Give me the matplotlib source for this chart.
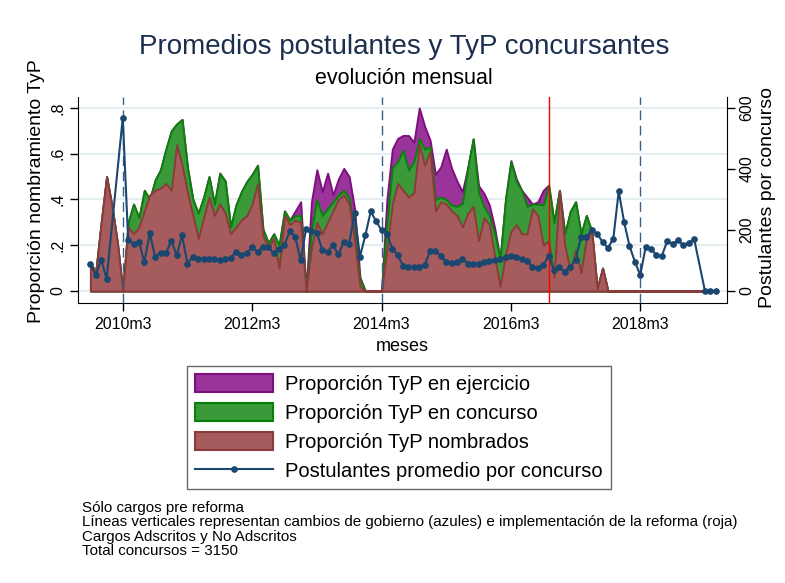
import numpy as np
import pandas as pd
import matplotlib
matplotlib.use("Agg")
import matplotlib.pyplot as plt
from matplotlib.patches import Patch
from matplotlib.lines import Line2D

plt.rcParams['font.family'] = ['Liberation Sans', 'DejaVu Sans']

# meses 2009m9 .. 2019m5
meses = pd.period_range('2009-09', '2019-05', freq='M')

nombrados = [0.12, 0.085, 0.30, 0.50, 0.37, 0.21, 0.00,
             0.28, 0.25, 0.28, 0.35, 0.42, 0.44, 0.45, 0.47, 0.44, 0.64,
             0.55, 0.43, 0.33, 0.23, 0.32, 0.41, 0.33, 0.38, 0.34, 0.25,
             0.28, 0.31, 0.33, 0.38, 0.47, 0.24, 0.19, 0.23, 0.10, 0.33,
             0.29, 0.31, 0.30, 0.00, 0.19, 0.30, 0.25, 0.30, 0.35, 0.40,
             0.42, 0.38, 0.22, 0.02, 0, 0, 0, 0, 0.18, 0.38,
             0.47, 0.44, 0.41, 0.43, 0.64, 0.55, 0.61, 0.35, 0.39, 0.38,
             0.35, 0.33, 0.28, 0.34, 0.37, 0.22, 0.32, 0.29, 0.15, 0.02,
             0.16, 0.26, 0.29, 0.25, 0.25, 0.36, 0.33, 0.20, 0.22, 0.06,
             0.44, 0.20, 0.09, 0.18, 0.08, 0.23, 0.26, 0.01, 0.10] + [0] * 21

concurso = [0.12, 0.085, 0.30, 0.50, 0.37, 0.21, 0.00,
            0.30, 0.38, 0.32, 0.44, 0.40, 0.485, 0.53, 0.62, 0.70, 0.73,
            0.75, 0.54, 0.40, 0.34, 0.41, 0.50, 0.38, 0.515, 0.48, 0.28,
            0.376, 0.434, 0.478, 0.51, 0.55, 0.27, 0.21, 0.25, 0.20, 0.35,
            0.31, 0.33, 0.33, 0.00, 0.27, 0.40, 0.33, 0.36, 0.39, 0.42,
            0.44, 0.405, 0.245, 0.05, 0, 0, 0, 0, 0.30, 0.54,
            0.565, 0.616, 0.53, 0.565, 0.667, 0.62, 0.63, 0.40, 0.41, 0.40,
            0.376, 0.37, 0.383, 0.54, 0.665, 0.43, 0.37, 0.33, 0.25, 0.14,
            0.40, 0.565, 0.48, 0.44, 0.37, 0.38, 0.38, 0.376, 0.463, 0.30,
            0.44, 0.25, 0.347, 0.39, 0.25, 0.33, 0.26, 0.01, 0.10] + [0] * 21

ejercicio = [0.12, 0.085, 0.30, 0.50, 0.37, 0.21, 0.00,
             0.30, 0.38, 0.32, 0.44, 0.40, 0.485, 0.53, 0.62, 0.70, 0.73,
             0.75, 0.54, 0.40, 0.34, 0.41, 0.50, 0.38, 0.515, 0.48, 0.28,
             0.376, 0.434, 0.478, 0.51, 0.55, 0.27, 0.21, 0.25, 0.20, 0.35,
             0.31, 0.35, 0.39, 0.00, 0.39, 0.53, 0.434, 0.515, 0.42, 0.49,
             0.536, 0.50, 0.36, 0.06, 0, 0, 0, 0, 0.40, 0.62,
             0.667, 0.68, 0.68, 0.65, 0.80, 0.72, 0.66, 0.51, 0.543, 0.62,
             0.536, 0.48, 0.434, 0.54, 0.665, 0.46, 0.427, 0.376, 0.274, 0.14,
             0.40, 0.57, 0.49, 0.44, 0.41, 0.38, 0.39, 0.44, 0.463, 0.30,
             0.44, 0.25, 0.347, 0.39, 0.25, 0.33, 0.26, 0.01, 0.10] + [0] * 21

nan = np.nan
postulantes = [88, 52, 103, 39, nan, nan, 568,
               168, 155, 162, 94, 190, 112, 126, 123, 165, 117,
               182, 90, 112, 106, 106, 104, 104, 101, 104, 109,
               128, 117, 123, 144, 128, 144, 144, 123, 139, 152,
               196, 177, 100, 204, 198, 190, 135, 129, 150, 120,
               160, 155, 256, 112, 183, 261, 228, 199, 188, 139,
               117, 83, 79, 79, 80, 85, 130, 132, 115, 95,
               92, 96, 106, 90, 88, 90, 96, 99, 100, 105,
               112, 114, 112, 104, 99, 80, 75, 85, 114, 68,
               77, 63, 80, 101, 177, 177, 199, 188, 161, 141,
               172, 327, 226, 148, 96, 52, 144, 139, 117, 115,
               164, 155, 166, 150, 158, 170, nan, 0, 0, 0]

cambios_gobierno = ['2010-03', '2014-03', '2018-03']
reforma = '2016-10'
ticks_x = ['2010-03', '2012-03', '2014-03', '2016-03', '2018-03']

base = pd.Period('2010-03', freq='M')
x = np.array([(m - base).n for m in meses])
def pos(s):
    return (pd.Period(s, freq='M') - base).n

post = np.array(postulantes, dtype=float)
ok = ~np.isnan(post)

fig = plt.figure(figsize=(7.85, 5.83), dpi=100)
ax = fig.add_axes([0.0994, 0.4803, 0.8268, 0.3533])

c_morado, e_morado = '#9a339a', '#7f0f7f'
c_verde, e_verde = '#3a9a3a', '#0a800a'
c_rojo, e_rojo = '#a65c5c', '#8c3a3a'
c_azul = '#1a476f'

ax.fill_between(x, 0, ejercicio, facecolor=c_morado, edgecolor=e_morado, linewidth=1.4, zorder=2)
ax.fill_between(x, 0, concurso, facecolor=c_verde, edgecolor=e_verde, linewidth=1.4, zorder=3)
ax.fill_between(x, 0, nombrados, facecolor=c_rojo, edgecolor=e_rojo, linewidth=1.4, zorder=4)

for m in cambios_gobierno:
    ax.axvline(pos(m), color='#3d5f85', linestyle=(0, (7, 4)), linewidth=1.0, zorder=5)
ax.axvline(pos(reforma), color='red', linewidth=1.0, zorder=5)

ax.set_xlim(-8.3, 112.1)
ax.set_ylim(-0.0525, 0.848)
ax.set_yticks([0, 0.2, 0.4, 0.6, 0.8])
ax.set_yticklabels(['0', '.2', '.4', '.6', '.8'], rotation=90, va='center')
ax.set_xticks([pos(t) for t in ticks_x])
ax.set_xticklabels([t.replace('-0', 'm') for t in ticks_x])
ax.grid(axis='y', color='#e6eef1', linewidth=1.6, zorder=0)
ax.set_axisbelow(True)
ax.tick_params(axis='both', direction='out', length=6, width=1, labelsize=11.5, pad=4)
ax.tick_params(axis='y', pad=3)
ax.spines['top'].set_visible(False)
ax.spines['right'].set_visible(False)

ax2 = ax.twinx()
ax2.plot(x[ok], post[ok], color=c_azul, linewidth=1.5, marker='o', markersize=3.8, zorder=6)
ax2.set_ylim(-0.0525 * 750, 0.848 * 750)
ax2.set_yticks([0, 200, 400, 600])
ax2.set_yticklabels(['0', '200', '400', '600'], rotation=90, va='center')
ax2.tick_params(axis='y', direction='out', length=6, width=1, labelsize=11.5, pad=3)
for s in ['top', 'left', 'bottom']:
    ax2.spines[s].set_visible(False)

fig.text(0.515, 0.919, 'Promedios postulantes y TyP concursantes', ha='center', va='center',
         fontsize=20, color='#1c2f4d')
fig.text(0.515, 0.866, 'evolución mensual', ha='center', va='center', fontsize=15.5)
fig.text(0.047, 0.672, 'Proporción nombramiento TyP', rotation=90, ha='center', va='center', fontsize=14)
fig.text(0.978, 0.662, 'Postulantes por concurso', rotation=90, ha='center', va='center', fontsize=14)
fig.text(0.512, 0.405, 'meses', ha='center', va='center', fontsize=13)

handles = [Patch(facecolor=c_morado, edgecolor=e_morado, linewidth=1.5),
           Patch(facecolor=c_verde, edgecolor=e_verde, linewidth=1.5),
           Patch(facecolor=c_rojo, edgecolor=e_rojo, linewidth=1.5),
           Line2D([], [], color=c_azul, linewidth=1.5, marker='o', markersize=3.8)]
labels = ['Proporción TyP en ejercicio', 'Proporción TyP en concurso',
          'Proporción TyP nombrados', 'Postulantes promedio por concurso']
leg = fig.legend(handles, labels, loc='center', bbox_to_anchor=(0.508, 0.267), fontsize=14.5,
                 frameon=True, fancybox=False, edgecolor='#444444', handlelength=3.9,
                 handleheight=1.0, labelspacing=0.45, borderpad=0.4, handletextpad=0.6,
                 numpoints=1)
leg.get_frame().set_linewidth(1.0)

notas = ['Sólo cargos pre reforma',
         'Líneas verticales representan cambios de gobierno (azules) e implementación de la reforma (roja)',
         'Cargos Adscritos y No Adscritos',
         'Total concursos = 3150']
for i, n in enumerate(notas):
    fig.text(0.1045, 0.1286 - i * 0.0245, n, ha='left', va='center', fontsize=10.9)

fig.savefig('out.png', dpi=100, facecolor='white')
